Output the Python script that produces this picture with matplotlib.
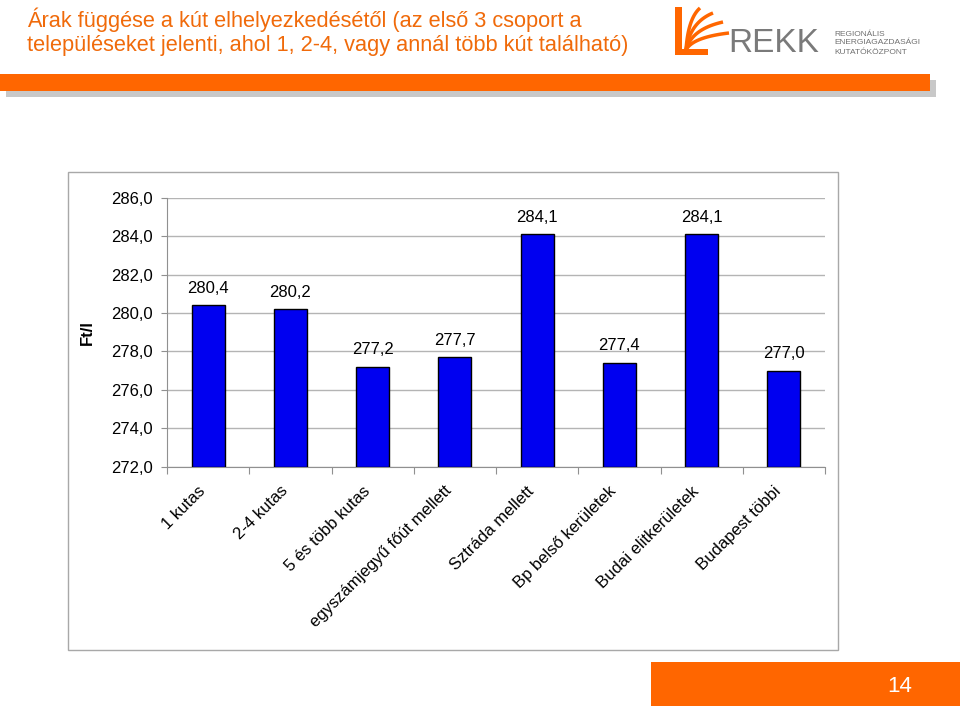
import matplotlib.pyplot as plt
from matplotlib.patches import Rectangle
import numpy as np

plt.rcParams['font.family'] = ['Liberation Sans', 'DejaVu Sans']

# adatok
categories = ["1 kutas", "2-4 kutas", "5 és több kutas", "egyszámjegyű főút mellett",
              "Sztráda mellett", "Bp belső kerületek", "Budai elitkerületek", "Budapest többi"]
prices = [280.4, 280.2, 277.2, 277.7, 284.1, 277.4, 284.1, 277.0]
yticks = [272, 274, 276, 278, 280, 282, 284, 286]

orange = '#FF6600'
W, H = 960, 708

fig = plt.figure(figsize=(9.6, 7.08), dpi=100)

# háttér réteg pixel koordinátákban
bg = fig.add_axes([0, 0, 1, 1])
bg.set_xlim(0, W)
bg.set_ylim(H, 0)
bg.axis('off')

bg.text(27, 20, "Árak függése a kút elhelyezkedésétől (az első 3 csoport a",
        color='#F06A0A', fontsize=15.7, va='center', ha='left')
bg.text(27, 46, "településeket jelenti, ahol 1, 2-4, vagy annál több kút található)",
        color='#F06A0A', fontsize=15.7, va='center', ha='left')

# narancs csík árnyékkal
bg.add_patch(Rectangle((6, 80), 930, 17, color='#C8C8C8', lw=0))
bg.add_patch(Rectangle((0, 74), 930, 17, color=orange, lw=0))

# logo (ívelt csíkok)
t = np.linspace(0, 1, 40)
x0, y0 = 686, 50
ends = [(700, 8), (713, 13), (723, 22), (729, 33)]
for ex, ey in ends:
    cx, cy = x0 + (ex - x0) * 0.15, ey + (y0 - ey) * 0.25
    xs = (1 - t) ** 2 * x0 + 2 * (1 - t) * t * cx + t ** 2 * ex
    ys = (1 - t) ** 2 * y0 + 2 * (1 - t) * t * cy + t ** 2 * ey
    bg.plot(xs, ys, color=orange, lw=2.5, solid_capstyle='butt')
bg.add_patch(Rectangle((675, 7), 7, 48, color=orange, lw=0))
bg.add_patch(Rectangle((675, 49), 33, 6, color=orange, lw=0))
bg.text(728, 44, "REKK", color='#7A7A7A', fontsize=24,
        va='center', ha='left')
for j, s in enumerate(["REGIONÁLIS", "ENERGIAGAZDASÁGI", "KUTATÓKÖZPONT"]):
    bg.text(834, 34 + j * 9, s, color='#707070', fontsize=6, va='center', ha='left')

# diagram keret
bg.add_patch(Rectangle((68, 172), 770, 478, fill=False, ec='#A8A8A8', lw=1))

# oldalszám
bg.add_patch(Rectangle((651, 662), 309, 44, color=orange, lw=0))
bg.text(900, 687, "14", color='white', fontsize=16, va='center', ha='center')

# diagram
left, right = 167 / W, 825 / W
bottom, top = (H - 466.7) / H, (H - 197.7) / H
ax = fig.add_axes([left, bottom, right - left, top - bottom])

x = np.arange(len(categories))
ax.bar(x, [p - 272 for p in prices], bottom=272, width=0.4,
       color='#0000F0', edgecolor='black', linewidth=1, zorder=3)
for xi, p in zip(x, prices):
    ax.text(xi, p + 0.5, f"{p:.1f}".replace('.', ','), ha='center', va='bottom',
            fontsize=12)

ax.set_xlim(-0.5, len(categories) - 0.5)
ax.set_ylim(272, 286)
ax.set_yticks(yticks)
ax.set_yticklabels([f"{v:.1f}".replace('.', ',') for v in yticks], fontsize=12)
ax.yaxis.grid(True, color='#B4B4B4', lw=1, zorder=0)
ax.tick_params(axis='y', length=4, color='#909090', pad=6)

ax.set_xticks(np.arange(-0.5, len(categories), 1))
ax.set_xticklabels([])
ax.set_xticks(x, minor=True)
ax.set_xticklabels(categories, minor=True, rotation=45, ha='right', va='top',
                   fontsize=12)
ax.tick_params(axis='x', which='major', length=5, color='#909090')
ax.tick_params(axis='x', which='minor', length=0, pad=12)

for s in ['top', 'right']:
    ax.spines[s].set_visible(False)
for s in ['left', 'bottom']:
    ax.spines[s].set_color('#909090')

ax.set_ylabel("Ft/l", fontsize=12, fontweight='bold')
ax.yaxis.set_label_coords(-0.109, 0.5)

fig.savefig('out.png', dpi=100)
